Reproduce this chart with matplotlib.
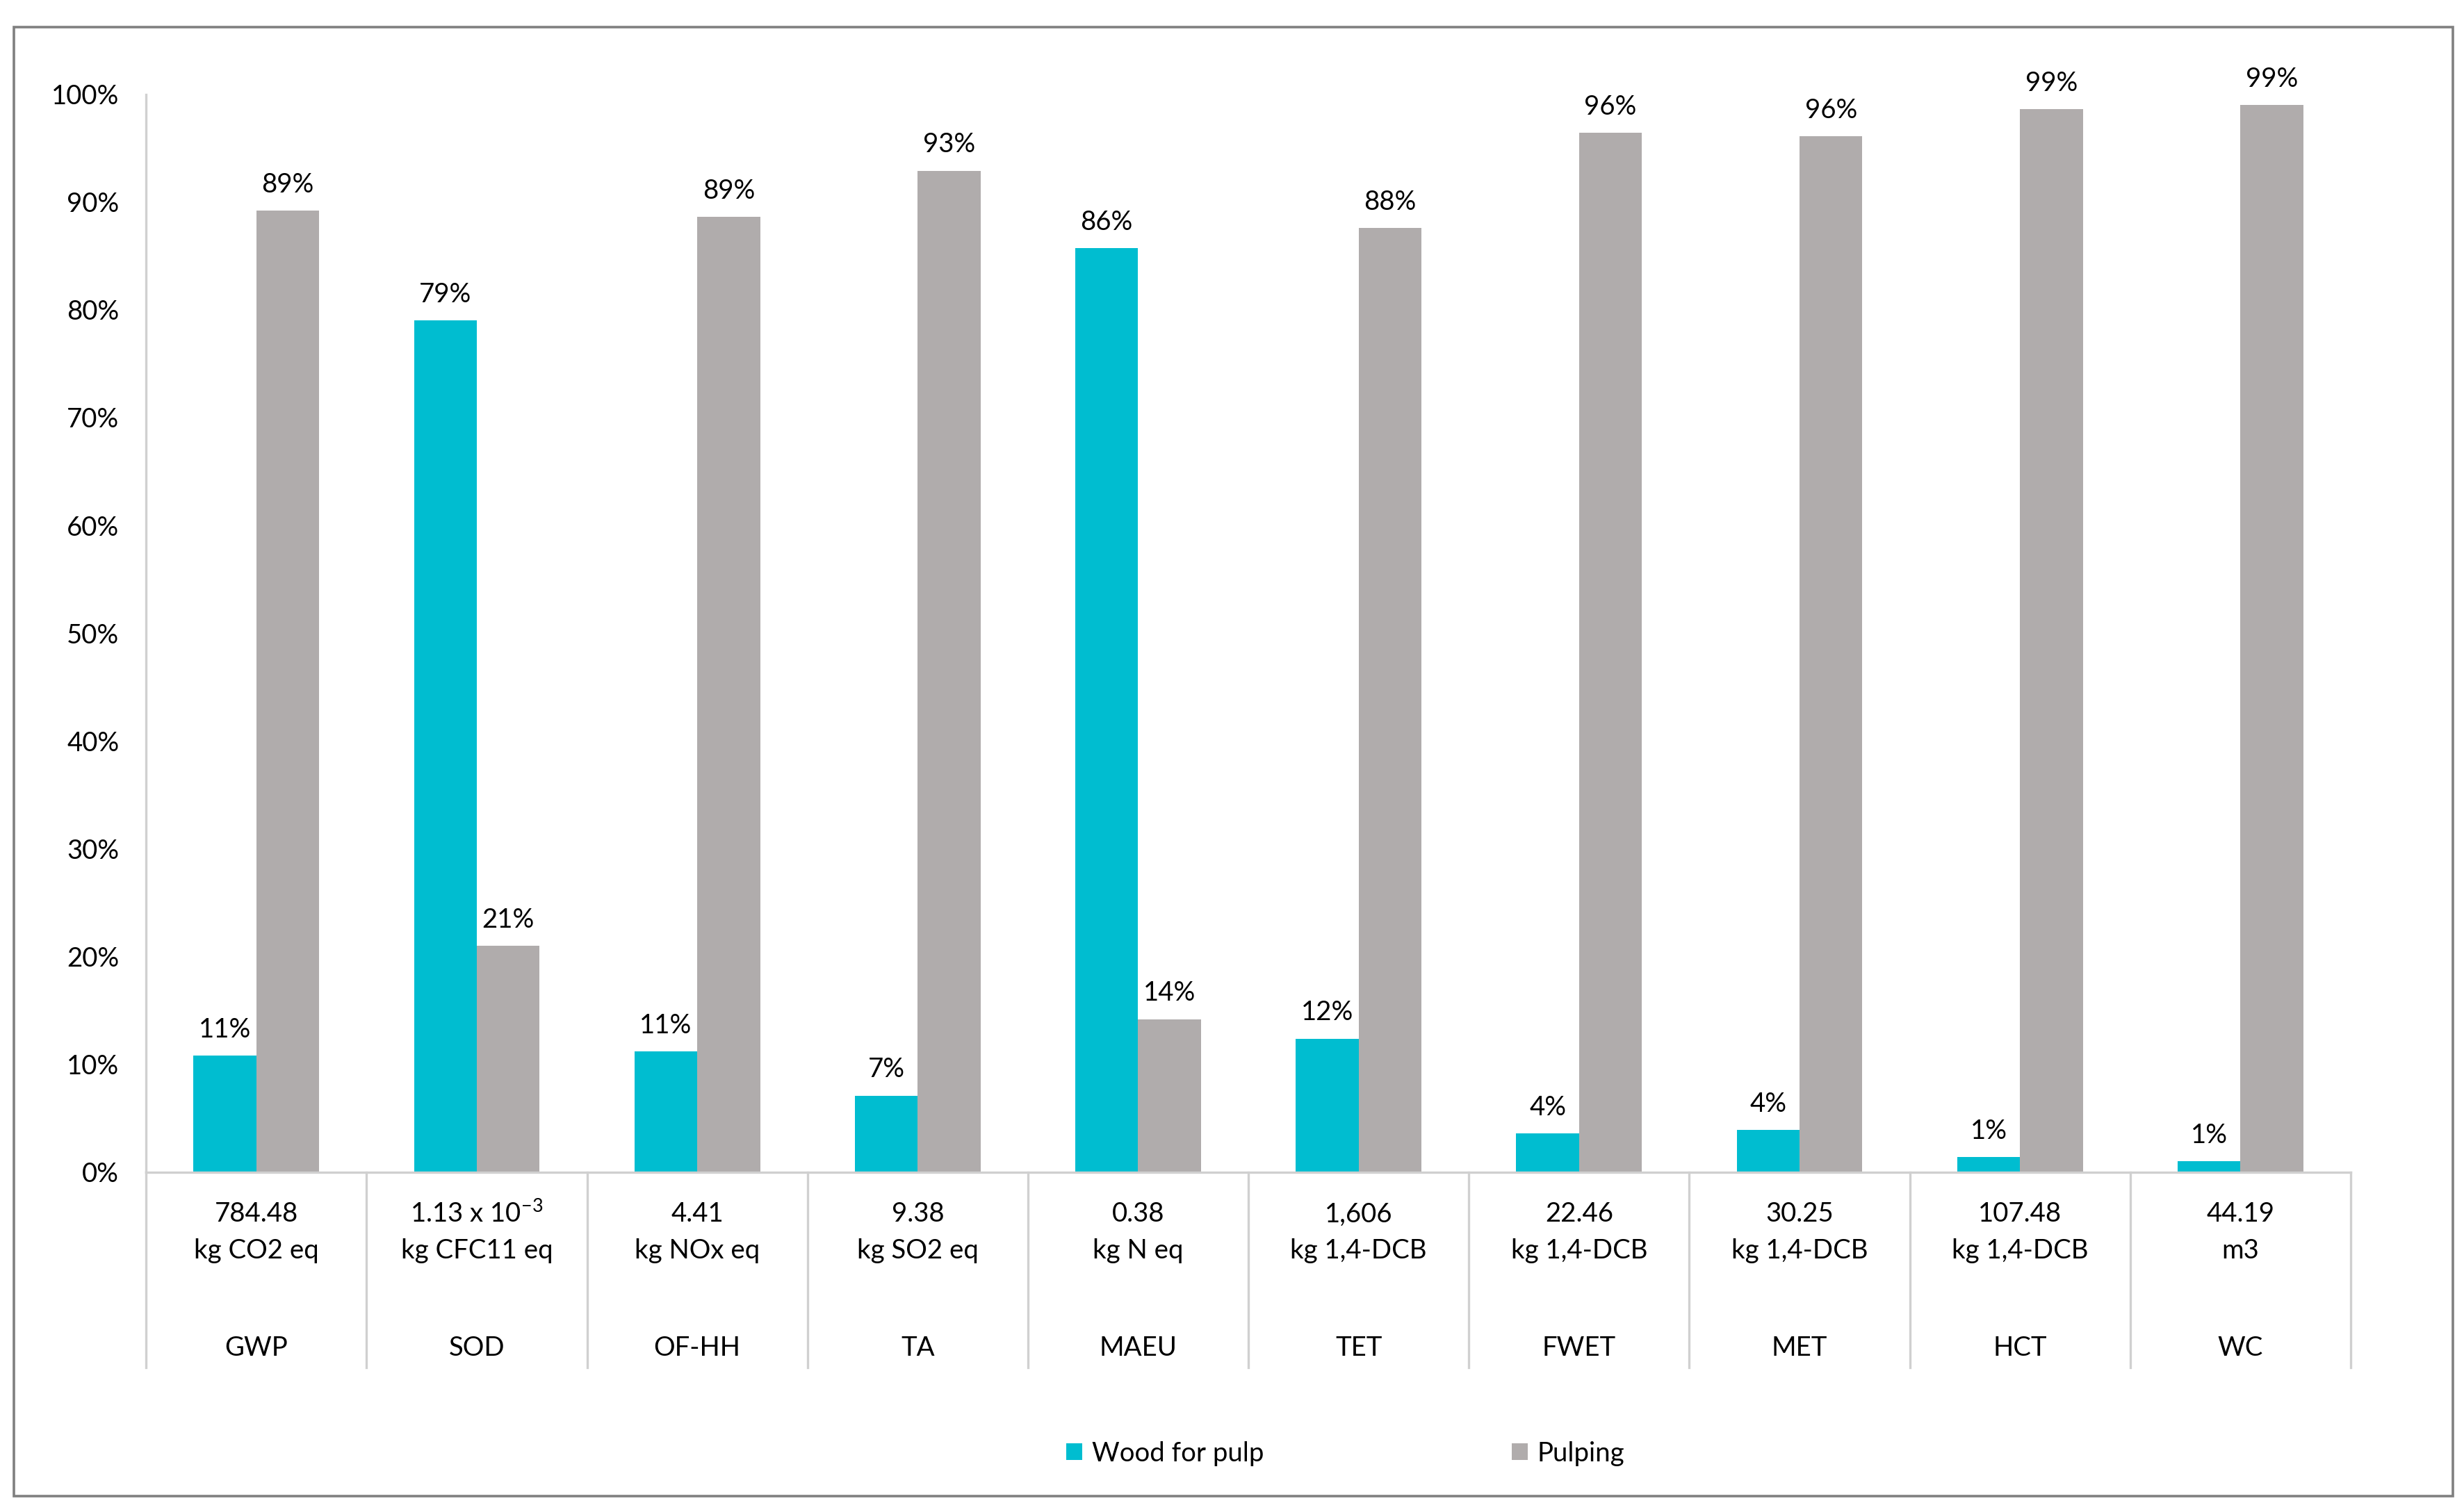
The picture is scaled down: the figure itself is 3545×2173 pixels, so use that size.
import matplotlib
matplotlib.use("Agg")
import matplotlib.pyplot as plt
import matplotlib.transforms as mtransforms
from matplotlib.patches import Rectangle
import numpy as np

plt.rcParams["font.family"] = ["Lato", "DejaVu Sans"]
plt.rcParams["mathtext.fontset"] = "custom"
plt.rcParams["mathtext.rm"] = "Lato"

# data
categories = ["GWP", "SOD", "OF-HH", "TA", "MAEU", "TET", "FWET", "MET", "HCT", "WC"]
totals = ["784.48", "1.13 x 10$^{\\mathrm{-3}}$", "4.41", "9.38", "0.38",
          "1,606", "22.46", "30.25", "107.48", "44.19"]
units = ["kg CO2 eq", "kg CFC11 eq", "kg NOx eq", "kg SO2 eq", "kg N eq",
         "kg 1,4-DCB", "kg 1,4-DCB", "kg 1,4-DCB", "kg 1,4-DCB", "m3"]
wood = [10.8, 79.0, 11.2, 7.1, 85.7, 12.4, 3.6, 3.9, 1.4, 1.0]
pulping = [89.2, 21.0, 88.6, 92.9, 14.2, 87.6, 96.4, 96.1, 98.6, 99.0]

teal = "#00BDD0"
grey = "#B0ACAC"
line_c = "#D0D0D0"
fs = 13.8

fig = plt.figure(figsize=(17.725, 10.865), dpi=200)
ax = fig.add_axes([0.0593, 0.2237, 0.8947, 0.7139])

x = np.arange(len(categories))
w = 0.285
b1 = ax.bar(x - w / 2, np.array(wood) / 100, w, color=teal, label="Wood for pulp")
b2 = ax.bar(x + w / 2, np.array(pulping) / 100, w, color=grey, label="Pulping")

for bars, vals in ((b1, wood), (b2, pulping)):
    for r, v in zip(bars, vals):
        ax.annotate(f"{v:.0f}%", (r.get_x() + r.get_width() / 2, r.get_height()),
                    xytext=(0, 7), textcoords="offset points",
                    ha="center", va="bottom", fontsize=fs)

ax.set_xlim(-0.5, len(categories) - 0.5)
ax.set_ylim(0, 1)
ax.set_yticks(np.arange(0, 1.01, 0.1))
ax.set_yticklabels([f"{int(round(t * 100))}%" for t in np.arange(0, 1.01, 0.1)])
ax.tick_params(axis="y", length=0, pad=14, labelsize=fs)
ax.set_xticks([])
for s in ("top", "right"):
    ax.spines[s].set_visible(False)
ax.spines["left"].set_color(line_c)
ax.spines["bottom"].set_color(line_c)
ax.spines["left"].set_linewidth(1.2)
ax.spines["bottom"].set_linewidth(1.2)

# category label table under the axis
trans = mtransforms.blended_transform_factory(ax.transData, ax.transAxes)
for i in range(len(categories) + 1):
    ax.plot([i - 0.5, i - 0.5], [0, -0.181], transform=trans, color=line_c,
            lw=1.2, clip_on=False)
for i, c in enumerate(categories):
    ax.text(i, -0.039, totals[i], transform=trans, ha="center", va="center", fontsize=fs)
    ax.text(i, -0.073, units[i], transform=trans, ha="center", va="center", fontsize=fs)
    ax.text(i, -0.163, c, transform=trans, ha="center", va="center", fontsize=fs)

fig.legend(handles=[b1, b2], loc="center", bbox_to_anchor=(0.546, 0.0375), ncol=2,
           frameon=False, fontsize=fs, handlelength=0.6, handleheight=0.6,
           handletextpad=0.35, columnspacing=9.3)

fig.patches.append(Rectangle((0.0057, 0.0094), 0.9898, 0.9726, transform=fig.transFigure,
                             fill=False, edgecolor="#808080", lw=1.3))

fig.savefig("out.png", dpi=200)
